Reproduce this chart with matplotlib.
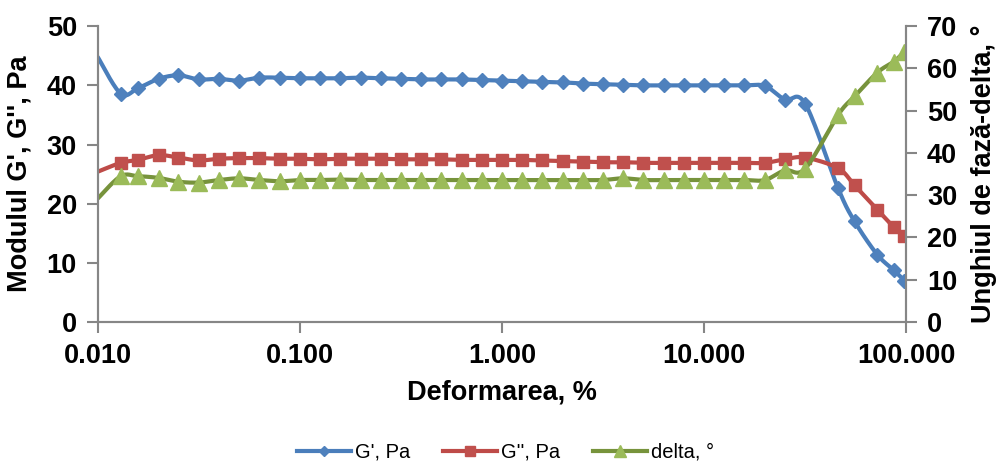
import matplotlib
matplotlib.use("Agg")
import numpy as np
import matplotlib.pyplot as plt
from matplotlib.lines import Line2D
from matplotlib.ticker import FixedLocator, FixedFormatter, NullLocator

plt.rcParams['font.family'] = ['Liberation Sans', 'DejaVu Sans']

# deformation, %
strain = [0.01, 0.013, 0.0158, 0.02, 0.0251, 0.0316, 0.0398, 0.0501, 0.0631, 0.0794,
          0.1, 0.126, 0.158, 0.2, 0.251, 0.316, 0.398, 0.501, 0.631, 0.794,
          1.0, 1.26, 1.58, 2.0, 2.51, 3.16, 3.98, 5.01, 6.31, 7.94,
          10.0, 12.6, 15.8, 20.0, 25.1, 31.6, 46.0, 55.5, 71.8, 86.5, 98.0]
g_storage = [44.8, 38.6, 39.5, 41.1, 41.7, 41.0, 41.1, 40.8, 41.3, 41.3,
             41.2, 41.2, 41.2, 41.3, 41.2, 41.1, 41.0, 41.0, 41.0, 40.9,
             40.8, 40.7, 40.6, 40.5, 40.3, 40.2, 40.1, 40.0, 40.0, 40.0,
             40.0, 40.0, 40.0, 39.9, 37.6, 36.9, 22.6, 17.0, 11.4, 8.8, 7.0]
g_loss = [25.4, 26.9, 27.4, 28.2, 27.8, 27.3, 27.6, 27.7, 27.7, 27.6,
          27.6, 27.5, 27.6, 27.6, 27.6, 27.5, 27.5, 27.5, 27.4, 27.4,
          27.4, 27.4, 27.3, 27.2, 27.1, 27.0, 27.0, 26.9, 26.9, 26.9,
          26.9, 26.9, 26.9, 26.9, 27.5, 27.8, 26.0, 23.1, 19.0, 16.1, 14.6]
delta = [29.2, 34.5, 34.5, 34.1, 33.2, 33.0, 33.6, 34.0, 33.6, 33.3,
         33.6, 33.6, 33.7, 33.6, 33.6, 33.6, 33.6, 33.6, 33.6, 33.6,
         33.6, 33.6, 33.6, 33.6, 33.6, 33.6, 34.0, 33.6, 33.6, 33.6,
         33.6, 33.6, 33.6, 33.6, 35.9, 36.3, 49.0, 53.4, 59.0, 61.6, 63.9]

x_ticks = [0.01, 0.1, 1, 10, 100]
x_labels = ['0.010', '0.100', '1.000', '10.000', '100.000']

grey = '#868686'
fs = 19.5


def smooth(xs, ys, n=16):
    # Excel-style smoothed line: Catmull-Rom segments in (log x, y)
    lx = np.log10(xs)
    ys = np.asarray(ys, float)
    px = np.concatenate([[lx[0]], lx, [lx[-1]]])
    py = np.concatenate([[ys[0]], ys, [ys[-1]]])
    t = np.linspace(0, 1, n, endpoint=False)[:, None]
    out_x, out_y = [], []
    for i in range(1, len(px) - 2):
        p0, p1, p2, p3 = [np.array([px[j], py[j]]) for j in (i - 1, i, i + 1, i + 2)]
        c1 = p1 + (p2 - p0) / 6
        c2 = p2 - (p3 - p1) / 6
        pts = ((1 - t) ** 3) * p1 + 3 * ((1 - t) ** 2) * t * c1 + 3 * (1 - t) * t ** 2 * c2 + t ** 3 * p2
        out_x.append(pts[:, 0])
        out_y.append(pts[:, 1])
    out_x.append([lx[-1]])
    out_y.append([ys[-1]])
    return 10 ** np.concatenate(out_x), np.concatenate(out_y)


series = [
    (g_storage, '#4A7EBB', '#4F81BD', 'D', 7, "G', Pa"),
    (g_loss, '#BE4B48', '#C0504D', 's', 9.3, "G'', Pa"),
    (delta, '#77933C', '#9BBB59', '^', 11, 'delta, °'),
]

fig = plt.figure(figsize=(9.97, 4.68), dpi=100)
ax = fig.add_axes([0.098, 0.312, 0.811, 0.632])
ax2 = ax.twinx()

handles = []
for k, (vals, lc, mc, mk, ms, lab) in enumerate(series):
    a = ax2 if k == 2 else ax
    sx, sy = smooth(strain, vals)
    a.plot(sx, sy, color=lc, lw=3, solid_capstyle='round')
    a.plot(strain[1:], vals[1:], ls='none', marker=mk, ms=ms, mfc=mc, mec=mc)
    handles.append(Line2D([], [], color=lc, lw=3, marker=mk, ms=ms * 0.75,
                          mfc=mc, mec=mc, label=lab))

ax.set_xscale('log')
ax.set_xlim(0.01, 100)
ax.xaxis.set_major_locator(FixedLocator(x_ticks))
ax.xaxis.set_major_formatter(FixedFormatter(x_labels))
ax.xaxis.set_minor_locator(NullLocator())
ax.set_ylim(0, 50)
ax.set_yticks(range(0, 51, 10))
ax2.set_ylim(0, 70)
ax2.set_yticks(range(0, 71, 10))

for a in (ax, ax2):
    a.spines['top'].set_visible(False)
    for s in ('left', 'right', 'bottom'):
        a.spines[s].set_color(grey)
        a.spines[s].set_linewidth(1.5)
    a.tick_params(axis='both', colors=grey, width=1.5, length=8, direction='out',
                  labelcolor='black', labelsize=fs, pad=7)
    for lab in a.get_xticklabels() + a.get_yticklabels():
        lab.set_fontweight('bold')

ax.set_xlabel('Deformarea, %', fontsize=fs, fontweight='bold', labelpad=8)
ax.set_ylabel("Modulul G', G'', Pa", fontsize=fs, fontweight='bold', labelpad=10)
ax2.set_ylabel('Unghiul de fază-delta, °', fontsize=fs, fontweight='bold', labelpad=10)

fig.legend(handles=handles, loc='lower center', bbox_to_anchor=(0.507, -0.025),
           ncol=3, frameon=False, fontsize=14.5, handlelength=2.7, columnspacing=1.6,
           handletextpad=0.2)

fig.savefig('out.png', dpi=100)
